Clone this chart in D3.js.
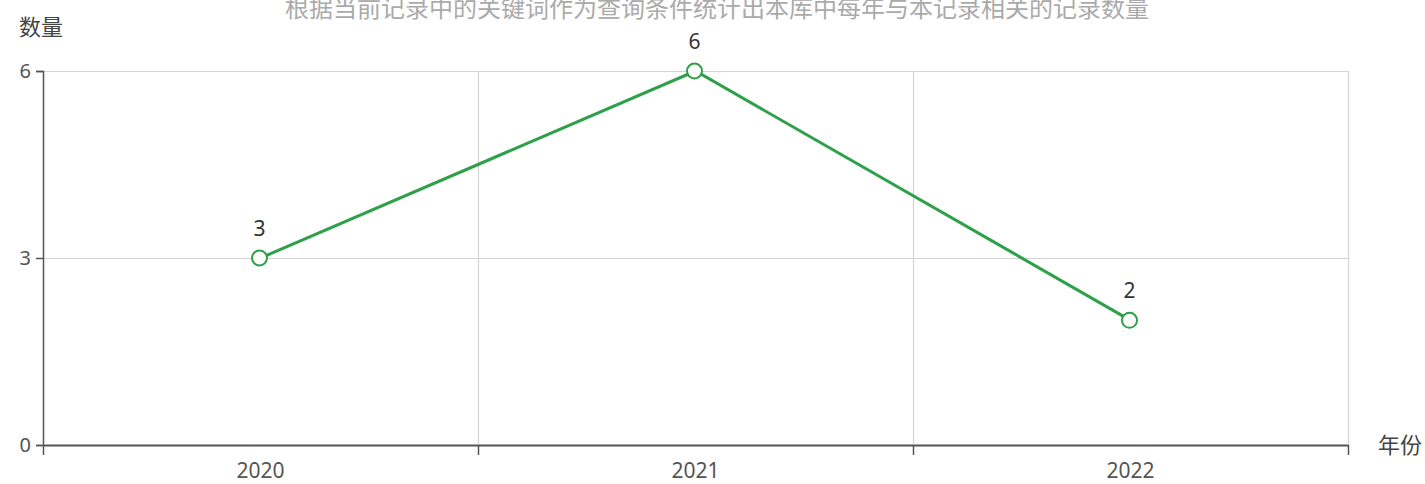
<!DOCTYPE html>
<html>
<head>
<meta charset="utf-8">
<script src="https://cdn.jsdelivr.net/npm/d3@7"></script>
<style>
  body { margin: 0; background: #fff; }
  svg text { font-family: "Noto Sans CJK SC", "Noto Sans", sans-serif; }
</style>
</head>
<body>
<div class="plot"></div>
<script>
// DATA
let years = ["2020", "2021", "2022"];
let counts = [3, 6, 2];
let yTicks = [0, 3, 6];
let titleText = "根据当前记录中的关键词作为查询条件统计出本库中每年与本记录相关的记录数量";
let yName = "数量";
let xName = "年份";

// LAYOUT
let w = 1425;
let h = 484;
let paddingLeft = 43;
let paddingRight = 77;
let paddingTop = 71;
let paddingBottom = 39;

let svg = d3.select(".plot").append("svg")
    .attr("width", w)
    .attr("height", h);

let xScale = d3.scaleBand()
    .domain(years)
    .range([paddingLeft, w - paddingRight]);

let yScale = d3.scaleLinear()
    .domain([0, 6])
    .range([h - paddingBottom, paddingTop]);

// horizontal grid
svg.append("g")
  .selectAll("line")
  .data(yTicks.filter(d => d > 0))
  .enter().append("line")
  .attr("x1", paddingLeft)
  .attr("x2", w - paddingRight)
  .attr("y1", d => yScale(d) + 0.5)
  .attr("y2", d => yScale(d) + 0.5)
  .attr("stroke", "#d4d4d4")
  .attr("stroke-width", 1.2);

// vertical grid at band boundaries
let bounds = years.map(d => xScale(d) + xScale.bandwidth());
svg.append("g")
  .selectAll("line")
  .data(bounds)
  .enter().append("line")
  .attr("x1", d => Math.round(d) + 0.5)
  .attr("x2", d => Math.round(d) + 0.5)
  .attr("y1", paddingTop)
  .attr("y2", h - paddingBottom)
  .attr("stroke", "#d4d4d4")
  .attr("stroke-width", 1.2);

// y axis
let yAxis = d3.axisLeft(yScale)
    .tickValues(yTicks)
    .tickSize(7)
    .tickPadding(5)
    .tickFormat(d3.format("d"));
let yG = svg.append("g")
    .attr("transform", "translate(" + paddingLeft + ",0)")
    .call(yAxis);
yG.select(".domain").attr("stroke", "#555").attr("stroke-width", 1.5);
yG.selectAll(".tick line").attr("stroke", "#555").attr("stroke-width", 1.5);
yG.selectAll(".tick text")
  .attr("font-size", 20)
  .attr("fill", "#555")
  .style("font-family", "'Noto Sans', sans-serif");

// x axis
let xAxis = d3.axisBottom(xScale)
    .tickSize(0)
    .tickPadding(18);
let xG = svg.append("g")
    .attr("transform", "translate(0," + (h - paddingBottom) + ")")
    .call(xAxis);
xG.select(".domain").attr("stroke", "#555").attr("stroke-width", 2);
xG.selectAll(".tick text")
  .attr("font-size", 21)
  .attr("fill", "#555")
  .style("font-family", "'Noto Sans', sans-serif");

// x ticks at band boundaries
svg.append("g")
  .selectAll("line")
  .data([paddingLeft].concat(bounds))
  .enter().append("line")
  .attr("x1", d => Math.round(d) + 0.5)
  .attr("x2", d => Math.round(d) + 0.5)
  .attr("y1", h - paddingBottom)
  .attr("y2", h - paddingBottom + 10)
  .attr("stroke", "#555")
  .attr("stroke-width", 1.5);

// line
let line = d3.line()
    .x((d, i) => xScale(years[i]) + xScale.bandwidth() / 2)
    .y(d => yScale(d));

svg.append("path")
  .datum(counts)
  .attr("d", line)
  .attr("fill", "none")
  .attr("stroke", "#2fa04a")
  .attr("stroke-width", 3);

svg.append("g")
  .selectAll("circle")
  .data(counts)
  .enter().append("circle")
  .attr("cx", (d, i) => xScale(years[i]) + xScale.bandwidth() / 2 - 1)
  .attr("cy", d => yScale(d))
  .attr("r", 7.5)
  .attr("fill", "#fff")
  .attr("stroke", "#2fa04a")
  .attr("stroke-width", 2);

// value labels
svg.append("g")
  .selectAll("text")
  .data(counts)
  .enter().append("text")
  .attr("x", (d, i) => xScale(years[i]) + xScale.bandwidth() / 2 - 1)
  .attr("y", d => yScale(d) - 22)
  .attr("text-anchor", "middle")
  .attr("font-size", 21)
  .attr("fill", "#333")
  .style("font-family", "'Noto Sans', sans-serif")
  .text(d => d);

// axis names
svg.append("text")
  .attr("x", 41)
  .attr("y", 35)
  .attr("text-anchor", "middle")
  .attr("font-size", 22)
  .attr("fill", "#444")
  .text(yName);

svg.append("text")
  .attr("x", 1378)
  .attr("y", 453)
  .attr("font-size", 22)
  .attr("fill", "#444")
  .text(xName);

// title (partly cut at top, as in the original)
svg.append("text")
  .attr("x", 717)
  .attr("y", 17)
  .attr("text-anchor", "middle")
  .attr("font-size", 24)
  .attr("fill", "#aaa")
  .text(titleText);
</script>
</body>
</html>
